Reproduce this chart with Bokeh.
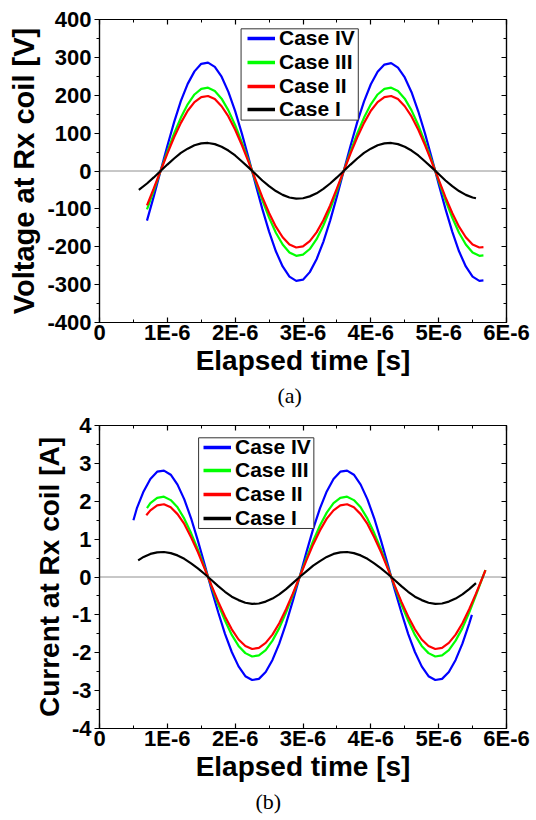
from bokeh.plotting import figure
from bokeh.models import (Range1d, LinearAxis, SingleIntervalTicker, Span,
                          Legend, LegendItem, Title, BoxAnnotation)
from bokeh.layouts import column
from bokeh.embed import file_html
from bokeh.resources import INLINE

# ---------------- data (time in units of 1E-6 s) ----------------
CASE_NAMES = ["Case IV", "Case III", "Case II", "Case I"]
COLORS = ["#0000FF", "#00FF00", "#FF0000", "#000000"]

X_TICKS = [0, 1, 2, 3, 4, 5, 6]
X_TICK_LABELS = ["0", "1E-6", "2E-6", "3E-6", "4E-6", "5E-6", "6E-6"]
V_TICKS = [-400, -300, -200, -100, 0, 100, 200, 300, 400]
V_TICK_LABELS = ["-400", "-300", "-200", "-100", "0", "100", "200", "300", "400"]
I_TICKS = [-4, -3, -2, -1, 0, 1, 2, 3, 4]
I_TICK_LABELS = ["-4", "-3", "-2", "-1", "0", "1", "2", "3", "4"]

# (a) voltage at Rx coil [V]
T_V = [0.7, 0.8, 0.9, 1.0, 1.1, 1.2, 1.3, 1.4, 1.5, 1.6,
       1.7, 1.8, 1.9, 2.0, 2.1, 2.2, 2.3, 2.4, 2.5, 2.6,
       2.7, 2.8, 2.9, 3.0, 3.1, 3.2, 3.3, 3.4, 3.5, 3.6,
       3.7, 3.8, 3.9, 4.0, 4.1, 4.2, 4.3, 4.4, 4.5, 4.6,
       4.7, 4.8, 4.9, 5.0, 5.1, 5.2, 5.3, 5.4, 5.5, 5.6, 5.66]
V_CASE_IV = [-131, -67, 0, 66, 129, 185, 230, 263, 283, 286,
             275, 249, 209, 158, 98, 33, -34, -100, -160, -212,
             -252, -279, -290, -287, -267, -233, -187, -131, -67, 0,
             66, 129, 184, 229, 262, 281, 285, 273, 247, 208,
             157, 98, 33, -34, -100, -160, -212, -252, -279, -290, -289]
V_CASE_III = [-101, -52, 0, 51, 99, 141, 176, 202, 217, 220,
              211, 191, 160, 121, 75, 26, -26, -77, -123, -163,
              -194, -215, -224, -221, -206, -180, -144, -101, -52, 0,
              51, 99, 141, 176, 202, 217, 220, 211, 191, 160,
              121, 75, 26, -26, -77, -123, -163, -194, -215, -224, -223]
V_CASE_II = [-91, -46, 0, 46, 89, 127, 159, 182, 195, 198,
             190, 171, 144, 109, 68, 23, -23, -69, -111, -147,
             -175, -194, -202, -199, -185, -162, -130, -91, -46, 0,
             46, 89, 127, 159, 182, 195, 198, 190, 171, 144,
             109, 68, 23, -23, -69, -111, -147, -175, -194, -202, -201]
T_V1 = [0.58, 0.7, 0.8, 0.9, 1.0, 1.1, 1.2, 1.3, 1.4, 1.5, 1.6,
        1.7, 1.8, 1.9, 2.0, 2.1, 2.2, 2.3, 2.4, 2.5, 2.6,
        2.7, 2.8, 2.9, 3.0, 3.1, 3.2, 3.3, 3.4, 3.5, 3.6,
        3.7, 3.8, 3.9, 4.0, 4.1, 4.2, 4.3, 4.4, 4.5, 4.6,
        4.7, 4.8, 4.9, 5.0, 5.1, 5.2, 5.3, 5.4, 5.5, 5.55]
V_CASE_I = [-50, -33, -17, 0, 17, 33, 48, 59, 68, 73, 74,
            71, 64, 54, 41, 25, 9, -8, -25, -40, -53,
            -63, -70, -73, -72, -67, -59, -47, -33, -17, 0,
            17, 33, 48, 59, 68, 73, 74, 71, 64, 54,
            41, 25, 9, -8, -25, -40, -53, -63, -70, -72]

# (b) current at Rx coil [A]
T_I4 = [0.50, 0.55, 0.65, 0.75, 0.85, 0.95, 1.05, 1.15, 1.25, 1.35, 1.45,
        1.55, 1.65, 1.75, 1.85, 1.95, 2.05, 2.15, 2.25, 2.35, 2.45,
        2.55, 2.65, 2.75, 2.85, 2.95, 3.05, 3.15, 3.25, 3.35, 3.45,
        3.55, 3.65, 3.75, 3.85, 3.95, 4.05, 4.15, 4.25, 4.35, 4.45,
        4.55, 4.65, 4.75, 4.85, 4.95, 5.05, 5.15, 5.25, 5.35, 5.45, 5.49]
I_CASE_IV = [1.50, 1.81, 2.26, 2.59, 2.78, 2.81, 2.70, 2.44, 2.05, 1.55, 0.96,
             0.33, -0.32, -0.93, -1.50, -1.98, -2.36, -2.62, -2.72, -2.69, -2.51,
             -2.19, -1.76, -1.23, -0.63, 0.00, 0.65, 1.27, 1.81, 2.26, 2.59,
             2.78, 2.81, 2.70, 2.44, 2.05, 1.55, 0.96, 0.33, -0.32, -0.93,
             -1.50, -1.98, -2.36, -2.62, -2.72, -2.69, -2.51, -2.19, -1.76, -1.23, -1.00]
T_I3 = [0.70, 0.75, 0.85, 0.95, 1.05, 1.15, 1.25, 1.35, 1.45, 1.55, 1.65,
        1.75, 1.85, 1.95, 2.05, 2.15, 2.25, 2.35, 2.45, 2.55, 2.65,
        2.75, 2.85, 2.95, 3.05, 3.15, 3.25, 3.35, 3.45, 3.55, 3.65,
        3.75, 3.85, 3.95, 4.05, 4.15, 4.25, 4.35, 4.45, 4.55, 4.65,
        4.75, 4.85, 4.95, 5.05, 5.15, 5.25, 5.35, 5.45, 5.55, 5.65, 5.69]
I_CASE_III = [1.82, 1.95, 2.09, 2.12, 2.03, 1.84, 1.54, 1.16, 0.73, 0.25, -0.24,
              -0.72, -1.15, -1.53, -1.82, -2.01, -2.10, -2.07, -1.93, -1.68, -1.35,
              -0.94, -0.48, 0.00, 0.49, 0.95, 1.36, 1.70, 1.95, 2.09, 2.12,
              2.03, 1.84, 1.54, 1.16, 0.73, 0.25, -0.24, -0.72, -1.15, -1.53,
              -1.82, -2.01, -2.10, -2.07, -1.93, -1.68, -1.35, -0.94, -0.48, 0.00, 0.18]
T_I2 = [0.69, 0.75, 0.85, 0.95, 1.05, 1.15, 1.25, 1.35, 1.45, 1.55, 1.65,
        1.75, 1.85, 1.95, 2.05, 2.15, 2.25, 2.35, 2.45, 2.55, 2.65,
        2.75, 2.85, 2.95, 3.05, 3.15, 3.25, 3.35, 3.45, 3.55, 3.65,
        3.75, 3.85, 3.95, 4.05, 4.15, 4.25, 4.35, 4.45, 4.55, 4.65,
        4.75, 4.85, 4.95, 5.05, 5.15, 5.25, 5.35, 5.45, 5.55, 5.65, 5.69]
I_CASE_II = [1.63, 1.76, 1.89, 1.92, 1.84, 1.66, 1.40, 1.05, 0.66, 0.22, -0.22,
             -0.65, -1.04, -1.38, -1.65, -1.82, -1.90, -1.87, -1.74, -1.52, -1.22,
             -0.85, -0.44, 0.00, 0.44, 0.86, 1.23, 1.54, 1.76, 1.89, 1.92,
             1.84, 1.66, 1.40, 1.05, 0.66, 0.22, -0.22, -0.65, -1.04, -1.38,
             -1.65, -1.82, -1.90, -1.87, -1.74, -1.52, -1.22, -0.85, -0.44, 0.00, 0.18]
T_I1 = [0.57, 0.65, 0.75, 0.85, 0.95, 1.05, 1.15, 1.25, 1.35, 1.45, 1.55,
        1.65, 1.75, 1.85, 1.95, 2.05, 2.15, 2.25, 2.35, 2.45, 2.55,
        2.65, 2.75, 2.85, 2.95, 3.05, 3.15, 3.25, 3.35, 3.45, 3.55,
        3.65, 3.75, 3.85, 3.95, 4.05, 4.15, 4.25, 4.35, 4.45, 4.55,
        4.65, 4.75, 4.85, 4.95, 5.05, 5.15, 5.25, 5.35, 5.45, 5.55]
I_CASE_I = [0.44, 0.53, 0.61, 0.65, 0.66, 0.63, 0.57, 0.48, 0.36, 0.23, 0.08,
            -0.08, -0.24, -0.39, -0.52, -0.61, -0.68, -0.71, -0.70, -0.65, -0.57,
            -0.46, -0.32, -0.16, 0.00, 0.15, 0.30, 0.42, 0.53, 0.61, 0.65,
            0.66, 0.63, 0.57, 0.48, 0.36, 0.23, 0.08, -0.08, -0.24, -0.39,
            -0.52, -0.61, -0.68, -0.71, -0.70, -0.65, -0.57, -0.46, -0.32, -0.16]

SANS = "Liberation Sans"
SERIF = "Liberation Serif"


def style_axis(ax, ticks, labels, interval, outward=True, show_labels=True, standoff=3):
    ax.ticker = SingleIntervalTicker(interval=interval, num_minor_ticks=2)
    ax.axis_line_color = "black"
    ax.axis_line_width = 1.2
    ax.major_tick_line_color = "black"
    ax.minor_tick_line_color = "black"
    ax.major_tick_line_width = 1.2
    ax.minor_tick_line_width = 1
    if outward:
        ax.major_tick_out, ax.major_tick_in = 5, 0
        ax.minor_tick_out, ax.minor_tick_in = 3, 0
    else:
        ax.major_tick_out, ax.major_tick_in = 0, 5
        ax.minor_tick_out, ax.minor_tick_in = 0, 3
    if show_labels:
        ax.major_label_overrides = {t: l for t, l in zip(ticks, labels)}
        ax.major_label_text_font = SANS
        ax.major_label_text_font_style = "bold"
        ax.major_label_text_font_size = "22px"
        ax.major_label_text_color = "black"
        ax.major_label_standoff = standoff
    else:
        ax.major_label_text_color = None
        ax.major_label_text_font_size = "1px"
        ax.major_label_standoff = 0


def make_panel(width, height, borders, y_lo, y_hi, y_ticks, y_labels, y_interval,
               ylabel, ylabel_size, tag, tag_offset, series, leg_x, leg_ys, box):
    left, right, top, bottom = borders
    p = figure(width=width, height=height, x_range=Range1d(0, 6),
               y_range=Range1d(y_lo, y_hi), output_backend="svg",
               toolbar_location=None, min_border_left=left,
               min_border_right=right, min_border_top=top,
               min_border_bottom=bottom)
    p.grid.visible = False
    p.outline_line_color = "black"
    p.outline_line_width = 1.2
    p.background_fill_color = "white"
    p.border_fill_color = "white"

    # bottom axis: ticks inside; left axis: ticks outside
    style_axis(p.xaxis[0], X_TICKS, X_TICK_LABELS, 1, outward=False, standoff=-3)
    style_axis(p.yaxis[0], y_ticks, y_labels, y_interval, outward=True, standoff=3)
    p.xaxis.axis_label = "Elapsed time [s]"
    p.yaxis.axis_label = ylabel
    for ax, size, so in ((p.xaxis[0], "28px", -3), (p.yaxis[0], ylabel_size, 4)):
        ax.axis_label_text_font = SANS
        ax.axis_label_text_font_style = "bold"
        ax.axis_label_text_font_size = size
        ax.axis_label_text_color = "black"
        ax.axis_label_standoff = so

    top_ax = LinearAxis()
    style_axis(top_ax, X_TICKS, X_TICK_LABELS, 1, outward=False, show_labels=False)
    p.add_layout(top_ax, "above")
    right_ax = LinearAxis()
    style_axis(right_ax, y_ticks, y_labels, y_interval, outward=False, show_labels=False)
    p.add_layout(right_ax, "right")

    p.add_layout(Span(location=0, dimension="width", line_color="#222222",
                      line_dash="1 1", line_width=1))

    for (tx, ty), col in zip(series, COLORS):
        p.line(tx, ty, line_color=col, line_width=2.2)

    # legend frame
    bl, br, bt, bb = box
    p.add_layout(BoxAnnotation(left=bl, right=br, top=bt, bottom=bb,
                               fill_color="white", fill_alpha=1,
                               line_color="#333333", line_width=1, line_alpha=1))
    # one legend per row, so the rows can sit as tightly as in the original
    for name, col, ly in zip(CASE_NAMES, COLORS, leg_ys):
        dummy = p.line(x=[0], y=[float("nan")], line_color=col, line_width=3.5)
        leg = Legend(items=[LegendItem(label=name, renderers=[dummy])],
                     location=(leg_x, ly), orientation="vertical")
        leg.border_line_color = None
        leg.background_fill_alpha = 0
        leg.padding = 0
        leg.spacing = 0
        leg.margin = 0
        leg.glyph_width = 28
        leg.glyph_height = 26
        leg.label_height = 26
        leg.label_standoff = 4
        leg.label_text_font = SANS
        leg.label_text_font_style = "bold"
        leg.label_text_font_size = "21px"
        leg.label_text_color = "black"
        p.add_layout(leg, "center")

    p.add_layout(Title(text=tag, align="left", offset=tag_offset,
                       text_font=SERIF, text_font_style="normal",
                       text_font_size="22px", text_color="black", standoff=4),
                 "below")
    return p


pa = make_panel(534, 413, (94, 28, 19, 91), -400, 400, V_TICKS, V_TICK_LABELS, 100,
                "Voltage at Rx coil [V]", "29px", "(a)", 178,
                [(T_V, V_CASE_IV), (T_V, V_CASE_III), (T_V, V_CASE_II), (T_V1, V_CASE_I)],
                148, (270.7, 247.1, 223.5, 199.9),
                (2.087, 3.815, 375.4, 134.4))
pb = make_panel(534, 405, (99, 23, 12, 90), -4, 4, I_TICKS, I_TICK_LABELS, 1,
                "Current at Rx coil [A]", "28px", "(b)", 156,
                [(T_I4, I_CASE_IV), (T_I3, I_CASE_III), (T_I2, I_CASE_II), (T_I1, I_CASE_I)],
                104, (268.3, 244.7, 221.1, 197.5),
                (1.461, 3.160, 3.675, 1.281))

layout = column(pa, pb, spacing=0)
open("out.html", "w").write(file_html(layout, INLINE))
